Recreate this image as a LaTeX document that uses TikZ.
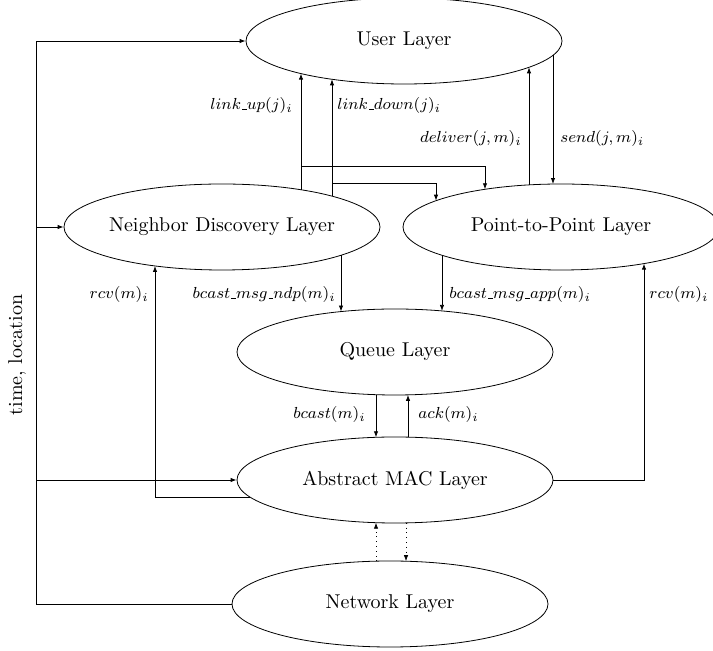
\documentclass[tikz,border=0pt]{standalone}
\usetikzlibrary{shapes.geometric,arrows.meta,calc}
% short rule underscore for the action names
\newcommand{\usc}{\mbox{\kern.06em\vbox{\hrule width.3em}}}
\begin{document}
\begin{tikzpicture}[x=0.5pt,y=-0.5pt,
  layer/.style={draw, ellipse, minimum width=158pt, minimum height=43pt,
                inner xsep=-1.2pt, inner ysep=0pt},
  lbl/.style={inner sep=0pt, font=\footnotesize},
  conn/.style={-{Latex[length=3pt,width=2.2pt]}},
  ]
\clip (0,0) rectangle (713,651);

% protocol layers
\node[layer] (user)  at (404,41)  {User Layer};
\node[layer] (nd)    at (222,227) {Neighbor Discovery Layer};
\node[layer] (ptp)   at (561,227) {Point-to-Point Layer};
\node[layer] (queue) at (395,352) {Queue Layer};
\node[layer] (mac)   at (395,480) {Abstract MAC Layer};
\node[layer] (net)   at (390,604) {Network Layer};

% helper coordinates for the bus and the branch heights
\coordinate (bus) at (36,0);
\coordinate (hA)  at (0,166);
\coordinate (hB)  at (0,183);

% time/location feed from the network layer
\draw[conn] (net.west) -| (bus |- user.west) -- (user.west);
\draw[conn] (bus |- nd.west) -- (nd.west);
\draw[conn] (bus |- mac.west) -- (mac.west);
\node[font=\normalsize, rotate=90, inner sep=0pt] (tl) at (17,355) {time, location};

% link up / link down (points on the ellipse borders)
\coordinate (upS) at ($(nd)+(79,-37.24)$);
\coordinate (dnS) at ($(nd)+(110,-30.87)$);
\draw[conn] (upS) -- ($(user)+(-103,32.6)$);
\draw[conn] (upS |- hA) -| ($(ptp)+(-76,-37.7)$);
\draw[conn] (dnS) -- ($(user)+(-72,38.28)$);
\draw[conn] (dnS |- hB) -| ($(ptp)+(-125,-26.3)$);
\node[lbl, anchor=east] (lup) at (293,106) {$link\usc up(j)_i$};
\node[lbl, anchor=west] (ldn) at (337,106) {$link\usc down(j)_i$};

% deliver / send
\draw[conn] ($(ptp)+(-32,-42.1)$) -- ($(user)+(125,26.3)$);
\draw[conn] ($(user)+(149,14.3)$) -- ($(ptp)+(-8,-42.95)$);
\node[lbl, anchor=east] (dlv) at (522,139) {$deliver(j,m)_i$};
\node[lbl, anchor=west] (snd) at (560,139) {$send(j,m)_i$};

% broadcasts into the queue
\draw[conn] ($(nd)+(119,28.3)$) -- ($(queue)+(-54,-40.4)$);
\draw[conn] ($(ptp)+(-119,28.3)$) -- ($(queue)+(47,-41.05)$);
\node[lbl, anchor=east] (bmn) at (336,295) {$bcast\usc msg\usc ndp(m)_i$};
\node[lbl, anchor=west] (bma) at (449,295) {$bcast\usc msg\usc app(m)_i$};

% receive paths
\draw[conn] (mac.east) -| ($(ptp)+(83,36.6)$);
\draw[conn] ($(mac)+(-145.1,17)$) -| ($(nd)+(-67,38.9)$);
\node[lbl, anchor=east] (rcvl) at (149,295) {$rcv(m)_i$};
\node[lbl, anchor=west] (rcvr) at (649,295) {$rcv(m)_i$};

% queue <-> MAC
\draw[conn] ($(queue)+(-19,42.69)$) -- ($(mac)+(-19,-42.69)$);
\draw[conn] ($(mac)+(13,-42.85)$) -- ($(queue)+(13,42.85)$);
\node[lbl, anchor=east] (bc) at (366,415) {$bcast(m)_i$};
\node[lbl, anchor=west] (ack) at (418,415) {$ack(m)_i$};

% MAC <-> network
\draw[conn, dotted] ($(net)+(-14,-42.76)$) -- ($(mac)+(-19,42.69)$);
\draw[conn, dotted] ($(mac)+(11,42.9)$) -- ($(net)+(16,-42.78)$);
\end{tikzpicture}
\end{document}
